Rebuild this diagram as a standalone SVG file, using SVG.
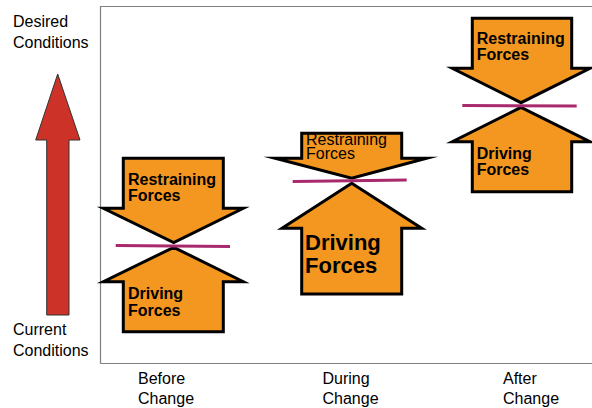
<svg xmlns="http://www.w3.org/2000/svg" width="592" height="408" viewBox="0 0 592 408">
<style>
.lbl{font-family:"Liberation Sans",Arial,sans-serif;font-size:16px;fill:#000}
.bold{font-family:"Liberation Sans",Arial,sans-serif;font-weight:bold;fill:#000}
.arr{fill:#F39720;stroke:#000;stroke-width:3;stroke-miterlimit:10}
.eq{stroke:#A8296C;stroke-width:3;fill:none}
.frame{stroke:#7f7f7f;stroke-width:1.2;fill:none}
</style>
<rect width="592" height="408" fill="#fff"/>
<path class="frame" d="M100.5,363.5 V6.5 H592 M100.5,363.5 H592"/>
<g id="axis-arrow">
<polygon points="57.7,74 80,140 69,140 69,315 46.7,315 46.7,140 35.7,140" fill="#CC3228" stroke="#333" stroke-width="1"/>
</g>
<g id="axis-labels">
<text class="lbl" x="13" y="26.5">Desired</text>
<text class="lbl" x="13" y="47.5">Conditions</text>
<text class="lbl" x="13" y="335">Current</text>
<text class="lbl" x="13" y="355.5">Conditions</text>
<text class="lbl" x="138" y="383.5">Before</text>
<text class="lbl" x="138" y="404">Change</text>
<text class="lbl" x="322.5" y="383.5">During</text>
<text class="lbl" x="322.5" y="404">Change</text>
<text class="lbl" x="503" y="383.5">After</text>
<text class="lbl" x="503" y="404">Change</text>
</g>
<g id="before-restraining">
<polygon class="arr" points="123.3,158.3 223.3,158.3 223.3,208.3 243.3,208.3 173.7,242.7 103.3,208.3 123.3,208.3"/>
<text class="bold" font-size="16" x="128" y="184.7">Restraining</text>
<text class="bold" font-size="16" x="128" y="200.7">Forces</text>
</g>
<g id="before-driving">
<polygon class="arr" points="173.7,247.3 243.3,281.7 223.3,281.7 223.3,331.7 123.3,331.7 123.3,281.7 103.3,281.7"/>
<text class="bold" font-size="16" x="128" y="299.3">Driving</text>
<text class="bold" font-size="16" x="128" y="315.7">Forces</text>
</g>
<g id="during-restraining">
<polygon class="arr" points="301.7,133.3 401.7,133.3 401.7,158.3 426.7,158.3 351.7,178.3 275,158.3 301.7,158.3"/>
<text class="lbl" font-size="11" x="306" y="144.5">Restraining</text>
<text class="lbl" font-size="11" x="306" y="159">Forces</text>
</g>
<g id="during-driving">
<polygon class="arr" points="351.7,183.3 421.7,228.3 401.7,228.3 401.7,294 301.7,294 301.7,228.3 282,228.3"/>
<text class="bold" font-size="22" x="305" y="250">Driving</text>
<text class="bold" font-size="22" x="305" y="273.3">Forces</text>
</g>
<g id="after-restraining">
<polygon class="arr" points="472.3,18.3 571.7,18.3 571.7,68.3 590,68.3 521,102.7 452.3,68.3 472.3,68.3"/>
<text class="bold" font-size="16" x="476.7" y="44">Restraining</text>
<text class="bold" font-size="16" x="476.7" y="60">Forces</text>
</g>
<g id="after-driving">
<polygon class="arr" points="521,107.3 590,141.7 571.7,141.7 571.7,191.7 472.3,191.7 472.3,141.7 452.3,141.7"/>
<text class="bold" font-size="16" x="476.7" y="159.3">Driving</text>
<text class="bold" font-size="16" x="476.7" y="175">Forces</text>
</g>
<g id="connectors">
<line class="eq" x1="115.7" y1="245.5" x2="230" y2="246.5"/>
<line class="eq" x1="292.7" y1="181.5" x2="406.7" y2="180"/>
<line class="eq" x1="462.3" y1="105.5" x2="576.7" y2="106"/>
</g>
</svg>
